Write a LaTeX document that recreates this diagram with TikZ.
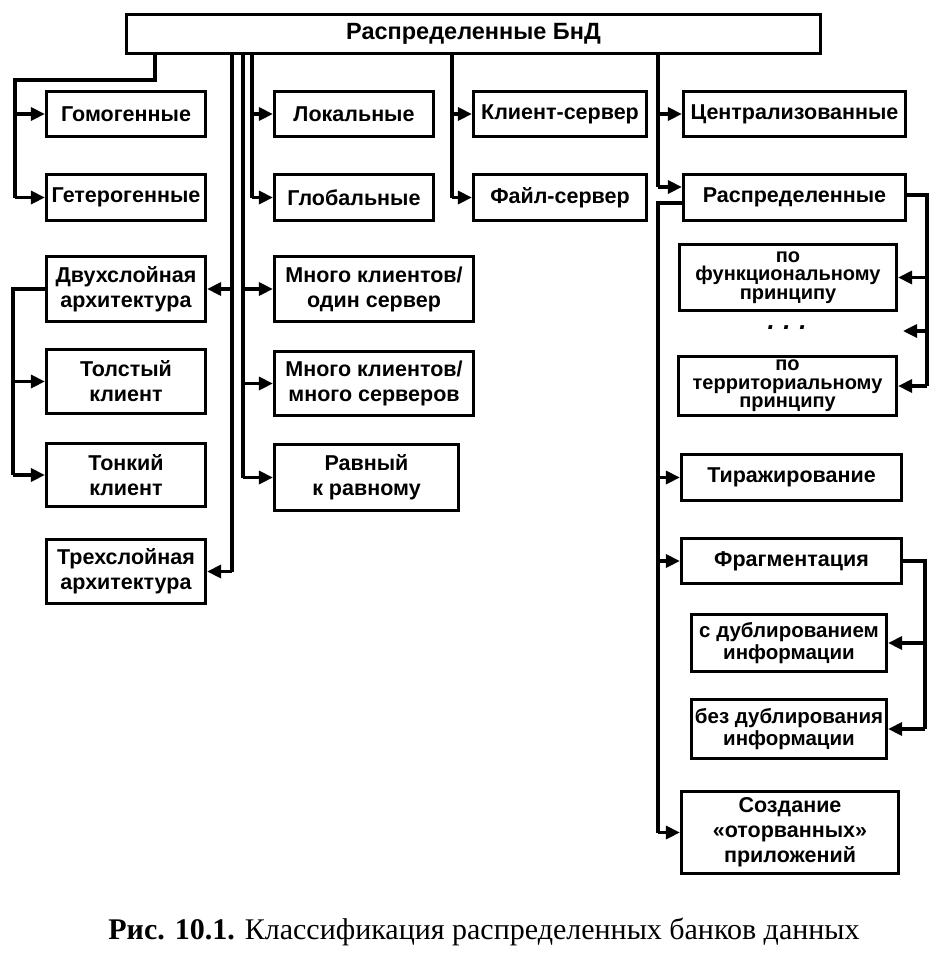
\documentclass[tikz,border=0pt]{standalone}
\usepackage{fontspec}
\setmainfont{Liberation Sans}
\newfontfamily\boxfont{Liberation Sans}
\newfontfamily\capfont{Liberation Serif}
\usetikzlibrary{arrows.meta}
\begin{document}
\begin{tikzpicture}[x=1pt,y=-1pt,
  bx/.style={draw, line width=3.2pt, align=center, inner sep=0pt,
    font=\boxfont\bfseries\fontsize{21.5}{25}\selectfont},
  sub/.style={bx, font=\boxfont\bfseries\fontsize{20}{18.5}\selectfont},
  dub/.style={bx, font=\boxfont\bfseries\fontsize{20.5}{22}\selectfont},
  ln/.style={line width=3.2pt},
  ar/.style={line width=3.2pt, -{Triangle[length=14pt,width=13pt]}}]
\useasboundingbox (0,0) rectangle (946,962);
\fill[white] (0,0) rectangle (946,962);

% top
\node[bx, minimum width=694pt, minimum height=39pt, font=\boxfont\bfseries\fontsize{23.5}{27}\selectfont] (top) at (473.5,34) {Распределенные БнД};

% left column
\node[bx, minimum width=159pt, minimum height=45pt] (gom) at (126,114) {Гомогенные};
\node[bx, minimum width=159pt, minimum height=46pt] (get) at (126,197.5) {Гетерогенные};
\node[bx, minimum width=159pt, minimum height=65pt] (dvuh) at (126,289) {Двухслойная\\архитектура};
\node[bx, minimum width=159pt, minimum height=64pt] (tolst) at (126,381.5) {Толстый\\клиент};
\node[bx, minimum width=159pt, minimum height=63pt] (tonk) at (126,475) {Тонкий\\клиент};
\node[bx, minimum width=159pt, minimum height=64pt] (treh) at (126,571.5) {Трехслойная\\архитектура};

% second column
\node[bx, minimum width=159pt, minimum height=45pt] (lok) at (354,114) {Локальные};
\node[bx, minimum width=159pt, minimum height=46pt] (glob) at (354,197.5) {Глобальные};
\node[bx, minimum width=199pt, minimum height=65pt] (mk1) at (374,289) {Много клиентов/\\один сервер};
\node[bx, minimum width=199pt, minimum height=64pt] (mk2) at (374,383.5) {Много клиентов/\\много серверов};
\node[bx, minimum width=184pt, minimum height=66pt] (rav) at (366.5,477.5) {Равный\\к равному};

% third column
\node[bx, minimum width=173pt, minimum height=45pt] (ks) at (560,114) {Клиент-сервер};
\node[bx, minimum width=173pt, minimum height=46pt] (fs) at (560,197.5) {Файл-сервер};

% right column
\node[bx, minimum width=222pt, minimum height=45pt] (centr) at (794.5,114) {Централизованные};
\node[bx, minimum width=222pt, minimum height=46pt] (raspr) at (794.5,197.5) {Распределенные};
\node[sub, minimum width=217pt, minimum height=66pt] (func) at (788,277.5) {по\\функциональному\\принципу};
\node[font=\boxfont\bfseries\itshape\fontsize{26}{26}\selectfont] (dots) at (787,328) {.\,\,.\,\,.};
\coordinate (dotsend) at (903,331);
\node[sub, minimum width=218pt, minimum height=59pt] (terr) at (787.5,386) {по\\территориальному\\принципу};
\node[bx, minimum width=220pt, minimum height=46pt] (tir) at (791.5,477.5) {Тиражирование};
\node[bx, minimum width=220pt, minimum height=45pt] (frag) at (791.5,561) {Фрагментация};
\node[dub, minimum width=195pt, minimum height=57pt] (sdub) at (789,643) {с дублированием\\информации};
\node[dub, minimum width=195pt, minimum height=59pt] (bdub) at (789,729) {без дублирования\\информации};
\node[bx, minimum width=217pt, minimum height=82pt] (sozd) at (790,832.5) {Создание\\«оторванных»\\приложений};

% caption
\node[font=\capfont\fontsize{30}{34}\selectfont, inner sep=0pt] (cap) at (484,932) {\textbf{Рис. 10.1.} Классификация распределенных банков данных};

% helper coordinates
\coordinate (gL) at (155,80);
\coordinate (gLL) at (15,80);
\coordinate (v1) at (232,0);
\coordinate (v2) at (243,0);
\coordinate (v3) at (252,0);
\coordinate (v4) at (452,0);
\coordinate (v5) at (658,0);
\coordinate (r1) at (927,0);
\coordinate (r2) at (925,0);
\coordinate (l2) at (13,0);
\coordinate (rasprIn) at ([yshift=10.5pt]raspr.west);
\coordinate (rasprOut) at ([yshift=-5.5pt]raspr.west);
\coordinate (rasprR) at ([yshift=2.5pt]raspr.east);

% left group from top
\draw[ln] (top.south -| gL) -- (gL) -- (gLL) -- (gLL |- get.west);
\draw[ar] (gLL |- gom.west) -- (gom.west);
\draw[ar] (gLL |- get.west) -- (get.west);

% architecture
\draw[ln] (top.south -| v1) -- (v1 |- treh.east);
\draw[ar] (v1 |- dvuh.east) -- (dvuh.east);
\draw[ar] (v1 |- treh.east) -- (treh.east);

\draw[ln] (dvuh.west) -| (l2 |- tonk.west);
\draw[ar] (l2 |- tolst.west) -- (tolst.west);
\draw[ar] (l2 |- tonk.west) -- (tonk.west);

% clients
\draw[ln] (top.south -| v2) -- (v2 |- rav.west);
\draw[ar] (v2 |- mk1.west) -- (mk1.west);
\draw[ar] (v2 |- mk2.west) -- (mk2.west);
\draw[ar] (v2 |- rav.west) -- (rav.west);

% local / global
\draw[ln] (top.south -| v3) -- (v3 |- glob.west);
\draw[ar] (v3 |- lok.west) -- (lok.west);
\draw[ar] (v3 |- glob.west) -- (glob.west);

% client-server / file-server
\draw[ln] (top.south -| v4) -- (v4 |- fs.west);
\draw[ar] (v4 |- ks.west) -- (ks.west);
\draw[ar] (v4 |- fs.west) -- (fs.west);

% centralized / distributed
\draw[ln] (top.south -| v5) -- (v5 |- rasprIn);
\draw[ar] (v5 |- centr.west) -- (centr.west);
\draw[ar] (v5 |- rasprIn) -- (rasprIn);

% distributed kinds
\draw[ln] (rasprOut) -| (v5 |- sozd.west);
\draw[ar] (v5 |- tir.west) -- (tir.west);
\draw[ar] (v5 |- frag.west) -- (frag.west);
\draw[ar] (v5 |- sozd.west) -- (sozd.west);

% principles
\draw[ln] (rasprR) -| (r1 |- terr.east);
\draw[ar] (r1 |- func.east) -- (func.east);
\draw[ar] (r1 |- dotsend) -- (dotsend);
\draw[ar] (r1 |- terr.east) -- (terr.east);

% fragmentation
\draw[ln] (frag.east) -| (r2 |- bdub.east);
\draw[ar] (r2 |- sdub.east) -- (sdub.east);
\draw[ar] (r2 |- bdub.east) -- (bdub.east);
\end{tikzpicture}
\end{document}
